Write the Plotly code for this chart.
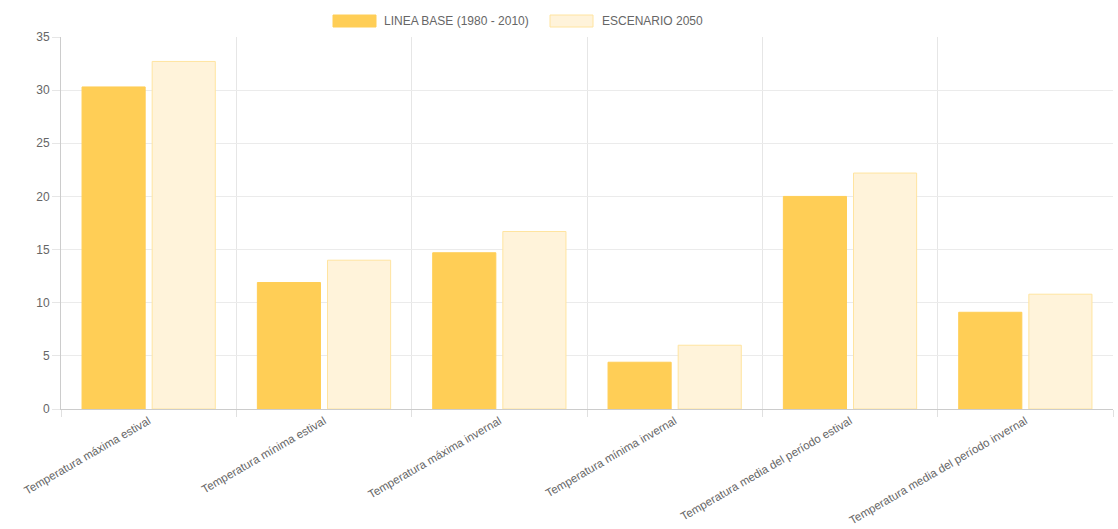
import plotly.graph_objects as go

categories = [
    "Temperatura máxima estival",
    "Temperatura mínima estival",
    "Temperatura máxima invernal",
    "Temperatura mínima invernal",
    "Temperatura media del período estival",
    "Temperatura media del período invernal",
]
series_names = ["LINEA BASE (1980 - 2010)", "ESCENARIO 2050"]
linea_base = [30.3, 11.9, 14.7, 4.4, 20.0, 9.1]
escenario_2050 = [32.7, 14.0, 16.7, 6.0, 22.2, 10.8]
y_ticks = [0, 5, 10, 15, 20, 25, 30, 35]

W, H = 1118, 529
ML, MR, MT, MB = 61, 5, 37, 120
PW, PH = W - ML - MR, H - MT - MB

base_fill = "rgb(255,206,86)"
esc_fill = "rgb(255,243,218)"
esc_line = "rgb(255,228,160)"
txt = "#666666"
font = "Liberation Sans, Arial, Helvetica, sans-serif"

fig = go.Figure()
fig.add_trace(go.Bar(x=categories, y=linea_base, name=series_names[0],
                     marker=dict(color=base_fill, line=dict(color=base_fill, width=1)),
                     showlegend=False))
fig.add_trace(go.Bar(x=categories, y=escenario_2050, name=series_names[1],
                     marker=dict(color=esc_fill, line=dict(color=esc_line, width=1)),
                     showlegend=False))

def px_x(p):
    return (p - ML) / PW

def px_y(p):
    return (H - MB - p) / PH

# custom legend (Chart.js style wide boxes)
legend_items = [
    (333, 376, 382, series_names[0], base_fill, base_fill),
    (550, 593, 600, series_names[1], esc_fill, esc_line),
]
shapes = []
annotations = []
for x0, x1, tx, label, fc, lc in legend_items:
    shapes.append(dict(type="rect", xref="paper", yref="paper",
                       x0=px_x(x0), x1=px_x(x1), y0=px_y(27), y1=px_y(15),
                       fillcolor=fc, line=dict(color=lc, width=1), layer="above"))
    annotations.append(dict(xref="paper", yref="paper", x=px_x(tx), y=px_y(21),
                            text=label, showarrow=False, xanchor="left", yanchor="middle",
                            font=dict(family=font, size=12, color=txt)))

fig.update_layout(
    width=W, height=H,
    margin=dict(l=ML, r=MR, t=MT, b=MB),
    paper_bgcolor="white", plot_bgcolor="white",
    barmode="group", bargap=0.2, bargroupgap=0.1,
    font=dict(family=font, size=12, color=txt),
    shapes=shapes, annotations=annotations,
    xaxis=dict(
        automargin=False,
        tickson="boundaries", showgrid=True, gridcolor="#e6e6e6", gridwidth=1,
        ticks="outside", ticklen=7, tickcolor="#e0e0e0", tickangle=-30,
        showline=True, linecolor="#cccccc", linewidth=1,
        tickfont=dict(family=font, size=11.5, color=txt),
    ),
    yaxis=dict(
        automargin=False,
        range=[0, 35], tickvals=y_ticks, showgrid=True, gridcolor="#ebebeb",
        zeroline=True, zerolinecolor="#cccccc", zerolinewidth=1,
        showline=True, linecolor="#cccccc", linewidth=1,
        ticks="outside", ticklen=8, tickcolor="#e6e6e6",
        tickfont=dict(family=font, size=12, color=txt),
    ),
)

fig.write_html("out.html")
